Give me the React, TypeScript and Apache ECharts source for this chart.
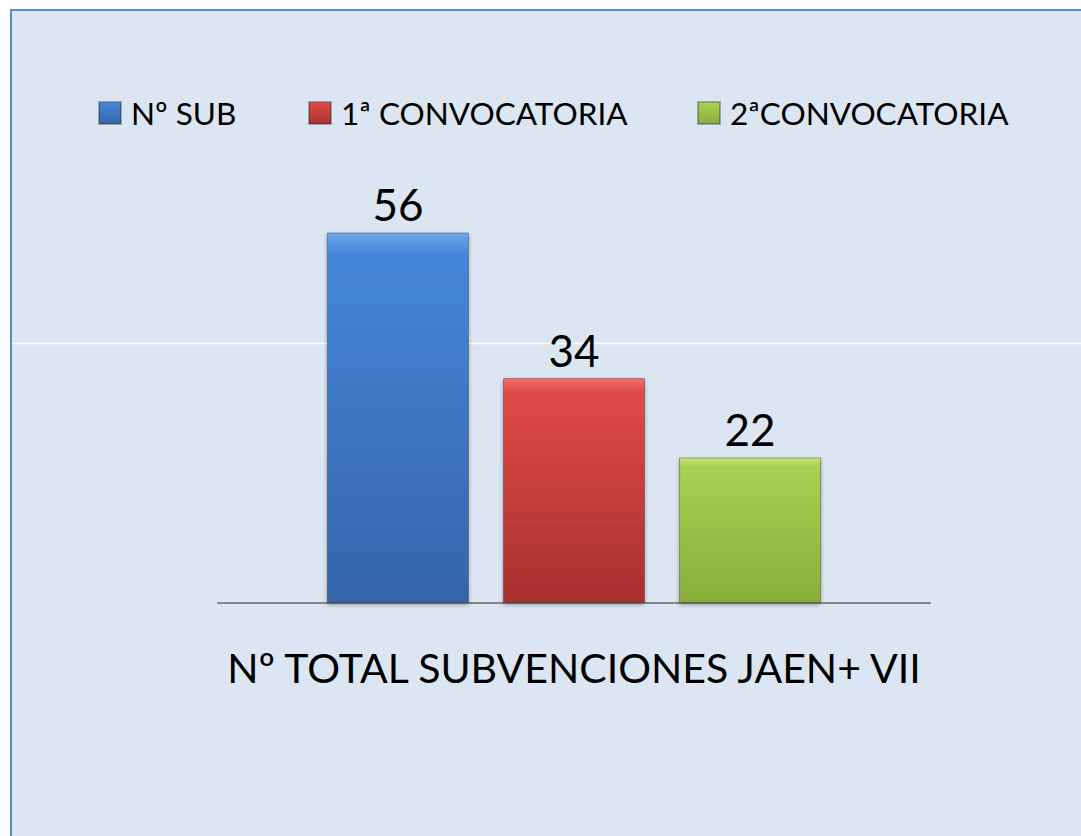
import React, { useEffect, useRef } from "react";
import * as echarts from "echarts";

const categories = ["Nº TOTAL SUBVENCIONES JAEN+ VII"];
const seriesNames = ["Nº SUB", "1ª CONVOCATORIA", "2ªCONVOCATORIA"];
const subValues = [56];
const conv1Values = [34];
const conv2Values = [22];

const FONT = "Lato";

function grad(top: string, mid: string, bottom: string) {
  return new echarts.graphic.LinearGradient(0, 0, 0, 1, [
    { offset: 0, color: top },
    { offset: 0.06, color: mid },
    { offset: 1, color: bottom },
  ]);
}

export default function App() {
  const ref = useRef<HTMLDivElement>(null);
  useEffect(() => {
    if (!ref.current) return;
    const chart = echarts.init(ref.current, undefined, { renderer: "svg" });
    const colors = [
      grad("#6ea8ec", "#4586d8", "#3465a8"),
      grad("#f07070", "#de4a47", "#a8302e"),
      grad("#c4e57a", "#a8d052", "#8aae3c"),
    ];
    const values = [subValues, conv1Values, conv2Values];
    const legendLefts = [98, 308, 697];
    const series = seriesNames.map((name, i) => ({
      name,
      type: "bar" as const,
      data: values[i],
      barWidth: 142,
      barGap: "24%",
      itemStyle: {
        color: colors[i],
        borderColor: "rgba(40,40,40,0.35)",
        borderWidth: 1,
        shadowBlur: 4,
        shadowColor: "rgba(0,0,0,0.35)",
        shadowOffsetY: 2,
      },
      label: {
        show: true,
        position: "top" as const,
        distance: 6,
        fontFamily: FONT,
        fontSize: 44,
        color: "#000",
      },
    }));
    chart.setOption({
      animation: false,
      backgroundColor: "#ffffff",
      graphic: [
        {
          type: "rect",
          z: 0,
          shape: { x: 11, y: 10, width: 1090, height: 850 },
          style: { fill: "#dce6f2", stroke: "#5e8bc8", lineWidth: 2 },
        },
        {
          type: "line",
          z: 1,
          shape: { x1: 12, y1: 343.5, x2: 1081, y2: 343.5 },
          style: { stroke: "#ffffff", lineWidth: 1.5 },
        },
      ],
      legend: seriesNames.map((name, i) => ({
        data: [name],
        left: legendLefts[i],
        top: 97,
        padding: 0,
        itemWidth: 22,
        itemHeight: 22,
        icon: "rect",
        textStyle: {
          fontFamily: FONT,
          fontSize: 31.5,
          color: "#000",
          padding: [0, 0, 0, 5],
        },
      })),
      grid: { left: 218, right: 151, top: 206, bottom: 233 },
      xAxis: {
        type: "category",
        data: categories,
        axisLine: { show: true, lineStyle: { color: "#868686", width: 2 } },
        axisTick: { show: false },
        axisLabel: {
          fontFamily: FONT,
          fontSize: 41,
          color: "#000",
          margin: 44,
        },
      },
      yAxis: {
        type: "value",
        min: 0,
        max: 60,
        show: false,
        splitLine: { show: false },
      },
      series,
    });
    return () => chart.dispose();
  }, []);
  return (
    <div
      ref={ref}
      style={{ position: "fixed", left: 0, top: 0, width: 1081, height: 836 }}
    />
  );
}
